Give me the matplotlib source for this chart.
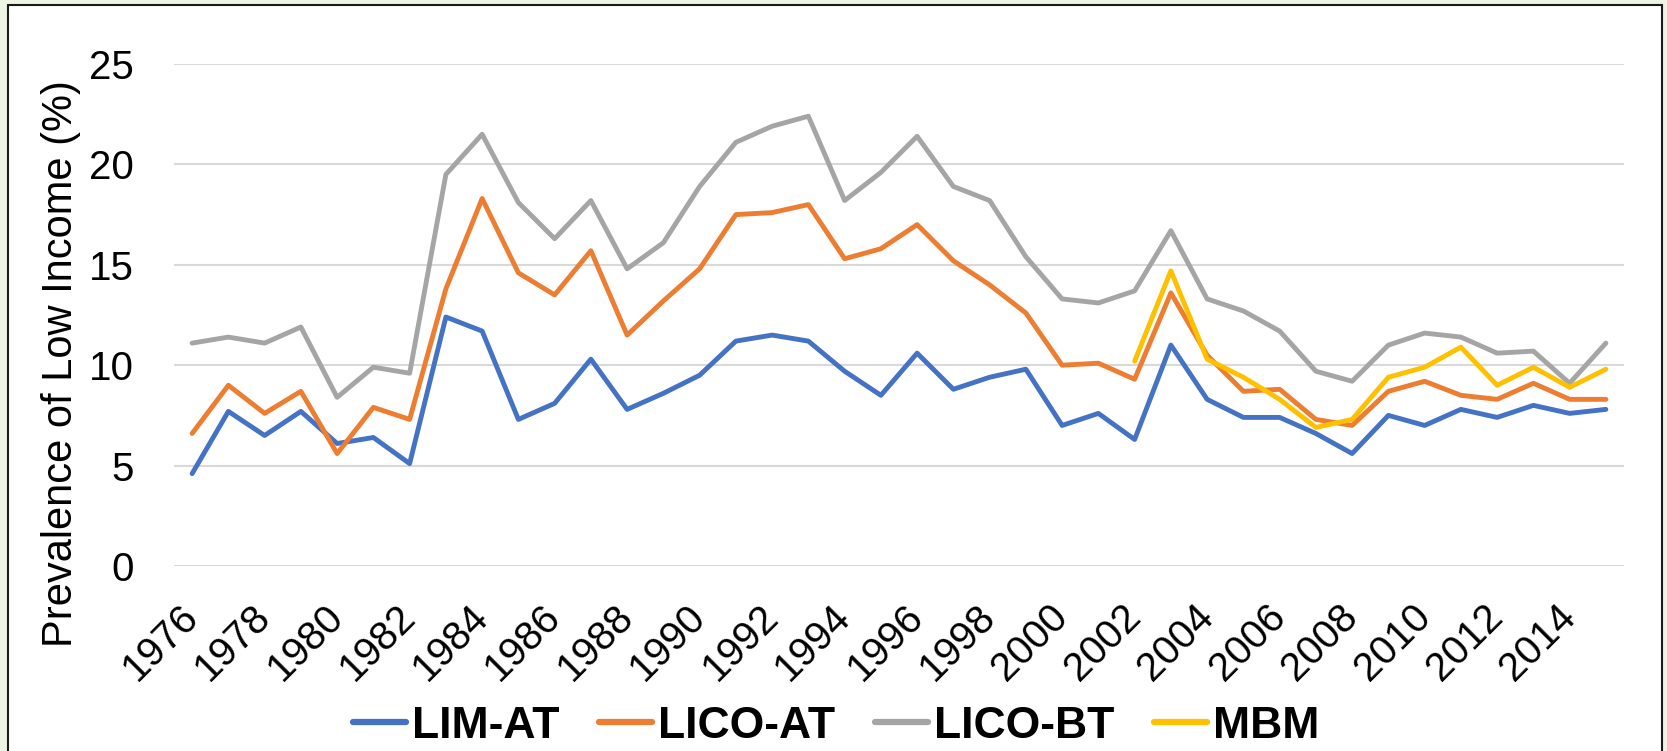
import matplotlib
matplotlib.use("Agg")
import matplotlib.pyplot as plt
from matplotlib.patches import Rectangle
import numpy as np

years = list(range(1976, 2016))

lim_at = [4.6, 7.7, 6.5, 7.7, 6.1, 6.4, 5.1, 12.4, 11.7, 7.3,
          8.1, 10.3, 7.8, 8.6, 9.5, 11.2, 11.5, 11.2, 9.7, 8.5,
          10.6, 8.8, 9.4, 9.8, 7.0, 7.6, 6.3, 11.0, 8.3, 7.4,
          7.4, 6.6, 5.6, 7.5, 7.0, 7.8, 7.4, 8.0, 7.6, 7.8]

lico_at = [6.6, 9.0, 7.6, 8.7, 5.6, 7.9, 7.3, 13.8, 18.3, 14.6,
           13.5, 15.7, 11.5, 13.2, 14.8, 17.5, 17.6, 18.0, 15.3, 15.8,
           17.0, 15.2, 14.0, 12.6, 10.0, 10.1, 9.3, 13.6, 10.5, 8.7,
           8.8, 7.3, 7.0, 8.7, 9.2, 8.5, 8.3, 9.1, 8.3, 8.3]

lico_bt = [11.1, 11.4, 11.1, 11.9, 8.4, 9.9, 9.6, 19.5, 21.5, 18.1,
           16.3, 18.2, 14.8, 16.1, 18.9, 21.1, 21.9, 22.4, 18.2, 19.6,
           21.4, 18.9, 18.2, 15.4, 13.3, 13.1, 13.7, 16.7, 13.3, 12.7,
           11.7, 9.7, 9.2, 11.0, 11.6, 11.4, 10.6, 10.7, 9.1, 11.1]

mbm_years = list(range(2002, 2016))
mbm = [10.2, 14.7, 10.3, 9.4, 8.3, 6.9, 7.3, 9.4, 9.9, 10.9,
       9.0, 9.9, 8.9, 9.8]

xtick_years = list(range(1976, 2016, 2))
yticks = [0, 5, 10, 15, 20, 25]
series_names = ["LIM-AT", "LICO-AT", "LICO-BT", "MBM"]
colors = ["#4472C4", "#ED7D31", "#A5A5A5", "#FFC000"]

plt.rcParams['font.family'] = ['Liberation Sans', 'DejaVu Sans']

W, H = 1667, 751
fig = plt.figure(figsize=(W / 100, H / 100), dpi=100)
fig.patch.set_facecolor("#EEF4E4")
frame = Rectangle((8 / W, -0.02), (1662 - 8) / W, 1 - 5 / H + 0.02,
                  transform=fig.transFigure, facecolor="white",
                  edgecolor="#1a1a1a", linewidth=1.5, zorder=-10)
fig.patches.append(frame)

ax = fig.add_axes([174 / W, 1 - 566 / H, (1624 - 174) / W, (566 - 64) / H])
ax.set_facecolor("none")
ax.set_zorder(1)

style = dict(lw=3.5, solid_capstyle="round", solid_joinstyle="round")
ax.plot(years, lim_at, color=colors[0], label=series_names[0], **style)
ax.plot(years, lico_at, color=colors[1], label=series_names[1], **style)
ax.plot(years, lico_bt, color=colors[2], label=series_names[2], **style)
ax.plot(mbm_years, mbm, color=colors[3], label=series_names[3], **style)

ax.set_xlim(1975.5, 2015.5)
ax.set_ylim(0, 25)
ax.set_yticks(yticks)
ax.set_xticks(xtick_years)
ax.set_xticklabels([str(y) for y in xtick_years], rotation=45, ha="right",
                   va="center", rotation_mode="anchor", fontsize=29)
ax.tick_params(axis="y", length=0, pad=29, labelsize=29)
ax.tick_params(axis="x", length=0, pad=32)
ax.grid(axis="y", color="#D9D9D9", lw=1.5)
ax.set_axisbelow(True)
for s in ax.spines.values():
    s.set_visible(False)

ax.set_ylabel("Prevalence of Low Income (%)", fontsize=30)
ax.yaxis.label.set_verticalalignment("center")
ax.yaxis.set_label_coords((61 - 174) / (1624 - 174), (566 - 364) / (566 - 64))

leg = fig.legend(loc="center", bbox_to_anchor=(836 / W, 1 - 726 / H),
                 ncol=4, frameon=False, prop={"weight": "bold", "size": 32},
                 handlelength=1.2, handletextpad=0.12, columnspacing=0.9)
for line in leg.get_lines():
    line.set_linewidth(4.5)
    line.set_solid_capstyle("round")

fig.savefig("out.png", dpi=100, facecolor=fig.get_facecolor())
